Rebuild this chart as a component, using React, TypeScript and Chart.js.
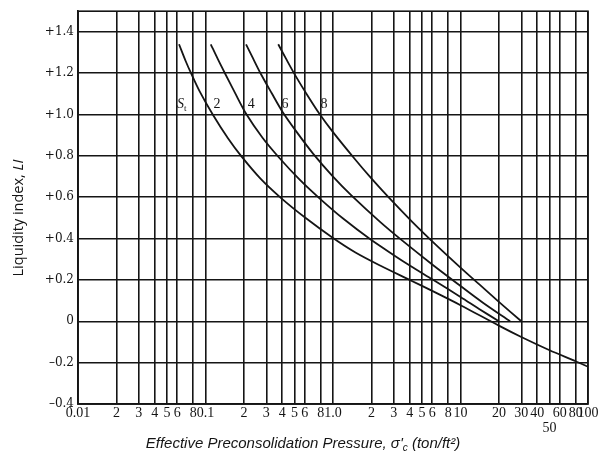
import React, { useEffect, useRef } from "react";
import { Chart, registerables } from "chart.js";

Chart.register(...registerables);

// ---- Data ----
const curveNames = ["S_t = 2", "S_t = 4", "S_t = 6", "S_t = 8"];

const curve1X = [0.062, 0.07, 0.077, 0.09, 0.114, 0.15, 0.19, 0.27, 0.39, 0.6, 1.0, 1.5, 2.34, 4, 6, 10, 20, 30, 50, 80, 100];
const curve1Y = [1.34, 1.258, 1.2, 1.112, 1.0, 0.885, 0.8, 0.69, 0.597, 0.503, 0.403, 0.333, 0.27, 0.2, 0.147, 0.078, -0.021, -0.076, -0.14, -0.193, -0.22];

const curve2X = [0.11, 0.125, 0.142, 0.17, 0.21, 0.28, 0.38, 0.55, 0.8, 1.2, 1.95, 3, 4, 6, 10, 14, 20];
const curve2Y = [1.34, 1.268, 1.2, 1.106, 1.0, 0.888, 0.79, 0.684, 0.59, 0.497, 0.398, 0.32, 0.27, 0.203, 0.118, 0.06, 0.0];

const curve3X = [0.208, 0.235, 0.27, 0.33, 0.4, 0.52, 0.7, 1.0, 1.4, 2.34, 3.5, 6, 10, 15, 24.5];
const curve3Y = [1.34, 1.274, 1.2, 1.104, 1.015, 0.915, 0.81, 0.7, 0.608, 0.481, 0.39, 0.275, 0.171, 0.09, 0.0];

const curve4X = [0.372, 0.43, 0.51, 0.62, 0.78, 1.0, 1.46, 2.0, 2.7, 4.2, 6, 10, 14.2, 20, 30];
const curve4Y = [1.34, 1.268, 1.186, 1.1, 1.005, 0.915, 0.79, 0.691, 0.603, 0.48, 0.387, 0.26, 0.176, 0.094, 0.0];

const xTickValues = [0.01, 0.02, 0.03, 0.04, 0.05, 0.06, 0.08, 0.1, 0.2, 0.3, 0.4, 0.5, 0.6, 0.8, 1, 2, 3, 4, 5, 6, 8, 10, 20, 30, 40, 50, 60, 80, 100];
const xTickLabels = ["0.01", "2", "3", "4", "5", "6", "8", "0.1", "2", "3", "4", "5", "6", "8", "1.0", "2", "3", "4", "5", "6", "8", "10", "20", "30", "40", "50", "60", "80", "100"];

const yTickValues = [-0.4, -0.2, 0, 0.2, 0.4, 0.6, 0.8, 1.0, 1.2, 1.4];
const yTickLabels = ["\u20130.4", "\u20130.2", "0", "+0.2", "+0.4", "+0.6", "+0.8", "+1.0", "+1.2", "+1.4"];

const curveLabelText = ["S", "2", "4", "6", "8"];
const curveLabelSub = ["t", "", "", "", ""];
const curveLabelX = [0.066, 0.123, 0.228, 0.42, 0.85];
const curveLabelY = [1.05, 1.05, 1.05, 1.05, 1.05];

const xTitleMain = "Effective Preconsolidation Pressure, \u03c3'";
const xTitleSub = "c";
const xTitleEnd = " (ton/ft\u00b2)";
const yTitleMain = "Liquidity index, ";
const yTitleItalic = "LI";

const X_MIN = 0.01;
const X_MAX = 100;
const Y_MIN = -0.4;
const Y_MAX = 1.5;

const INK = "#151515";

const overlayPlugin = {
  id: "overlay",
  afterDatasetsDraw(chart: any) {
    const { ctx, chartArea: a, scales } = chart;
    ctx.save();
    // frame
    ctx.strokeStyle = INK;
    ctx.lineWidth = 1.6;
    ctx.strokeRect(a.left, a.top, a.right - a.left, a.bottom - a.top);

    // curve labels
    ctx.fillStyle = INK;
    ctx.textBaseline = "middle";
    ctx.textAlign = "center";
    curveLabelText.forEach((t, i) => {
      const px = scales.x.getPixelForValue(curveLabelX[i]);
      const py = scales.y.getPixelForValue(curveLabelY[i]);
      if (curveLabelSub[i]) {
        ctx.font = 'italic 14px "Liberation Serif"';
        ctx.textAlign = "left";
        const w = ctx.measureText(t).width;
        ctx.fillText(t, px - w / 2 - 2, py);
        ctx.font = '9px "Liberation Serif"';
        ctx.fillText(curveLabelSub[i], px + w / 2 - 2, py + 4);
        ctx.textAlign = "center";
      } else {
        ctx.font = '14px "Liberation Serif"';
        ctx.fillText(t, px, py);
      }
    });

    // x title with subscript
    ctx.textAlign = "left";
    ctx.textBaseline = "alphabetic";
    const mainFont = 'italic 15px "Liberation Sans"';
    const subFont = 'italic 10px "Liberation Sans"';
    ctx.font = mainFont;
    const w1 = ctx.measureText(xTitleMain).width;
    const w3 = ctx.measureText(xTitleEnd).width;
    ctx.font = subFont;
    const w2 = ctx.measureText(xTitleSub).width;
    const total = w1 + w2 + w3;
    const cx = 303;
    const by = 448;
    let x0 = cx - total / 2;
    ctx.font = mainFont;
    ctx.fillText(xTitleMain, x0, by);
    x0 += w1;
    ctx.font = subFont;
    ctx.fillText(xTitleSub, x0, by + 3);
    x0 += w2;
    ctx.font = mainFont;
    ctx.fillText(xTitleEnd, x0, by);

    // y title (rotated)
    ctx.save();
    ctx.translate(19, 218);
    ctx.rotate(-Math.PI / 2);
    const yFont = '14.5px "Open Sans"';
    const yFontI = 'italic 14.5px "Open Sans"';
    ctx.font = yFont;
    const yw1 = ctx.measureText(yTitleMain).width;
    ctx.font = yFontI;
    const yw2 = ctx.measureText(yTitleItalic).width;
    let y0 = -(yw1 + yw2) / 2;
    ctx.textBaseline = "middle";
    ctx.font = yFont;
    ctx.fillText(yTitleMain, y0, 0);
    y0 += yw1;
    ctx.font = yFontI;
    ctx.fillText(yTitleItalic, y0, 0);
    ctx.restore();

    ctx.restore();
  },
};

function toPoints(xs: number[], ys: number[]) {
  return xs.map((x, i) => ({ x, y: ys[i] }));
}

export default function App() {
  const canvasRef = useRef<HTMLCanvasElement | null>(null);

  useEffect(() => {
    if (!canvasRef.current) return;
    const series = [
      [curve1X, curve1Y],
      [curve2X, curve2Y],
      [curve3X, curve3Y],
      [curve4X, curve4Y],
    ];
    const chart = new Chart(canvasRef.current, {
      type: "line",
      data: {
        datasets: series.map(([xs, ys], i) => ({
          label: curveNames[i],
          data: toPoints(xs as number[], ys as number[]),
          borderColor: INK,
          borderWidth: 1.8,
          pointRadius: 0,
          fill: false,
          tension: 0.3,
        })),
      },
      options: {
        responsive: false,
        animation: false,
        events: [],
        layout: { padding: { left: 0, top: 9, right: 20, bottom: 0 } },
        plugins: {
          legend: { display: false },
          tooltip: { enabled: false },
          title: { display: false },
        },
        scales: {
          x: {
            type: "logarithmic",
            min: X_MIN,
            max: X_MAX,
            afterBuildTicks: (scale: any) => {
              scale.ticks = xTickValues.map((v) => ({ value: v }));
            },
            afterFit: (scale: any) => {
              scale.height = 52;
            },
            ticks: {
              autoSkip: false,
              maxRotation: 0,
              minRotation: 0,
              padding: 2,
              color: INK,
              font: { family: '"Liberation Serif"', size: 14, lineHeight: 1.05 },
              callback: (value: any) => {
                const idx = xTickValues.findIndex((v) => Math.abs(v - Number(value)) < v * 1e-6);
                if (idx < 0) return "";
                const lab = xTickLabels[idx];
                return lab === "50" ? ["", lab] : lab;
              },
            },
            grid: {
              color: INK,
              lineWidth: 1.6,
              drawTicks: false,
            },
            border: { display: true, color: INK, width: 1.6 },
          },
          y: {
            type: "linear",
            min: Y_MIN,
            max: Y_MAX,
            afterBuildTicks: (scale: any) => {
              scale.ticks = yTickValues.map((v) => ({ value: v }));
            },
            afterFit: (scale: any) => {
              scale.width = 78;
            },
            ticks: {
              padding: 4,
              color: INK,
              font: { family: '"DejaVu Serif"', size: 12 },
              callback: (value: any) => {
                const idx = yTickValues.findIndex((v) => Math.abs(v - Number(value)) < 1e-6);
                return idx < 0 ? "" : yTickLabels[idx];
              },
            },
            grid: {
              color: INK,
              lineWidth: 1.6,
              drawTicks: false,
            },
            border: { display: true, color: INK, width: 1.6 },
          },
        },
      },
      plugins: [overlayPlugin],
    });
    return () => chart.destroy();
  }, []);

  return (
    <div style={{ position: "absolute", left: 0, top: 0, width: 608, height: 456, background: "#fff" }}>
      <canvas ref={canvasRef} width={608} height={456} style={{ display: "block" }} />
    </div>
  );
}
